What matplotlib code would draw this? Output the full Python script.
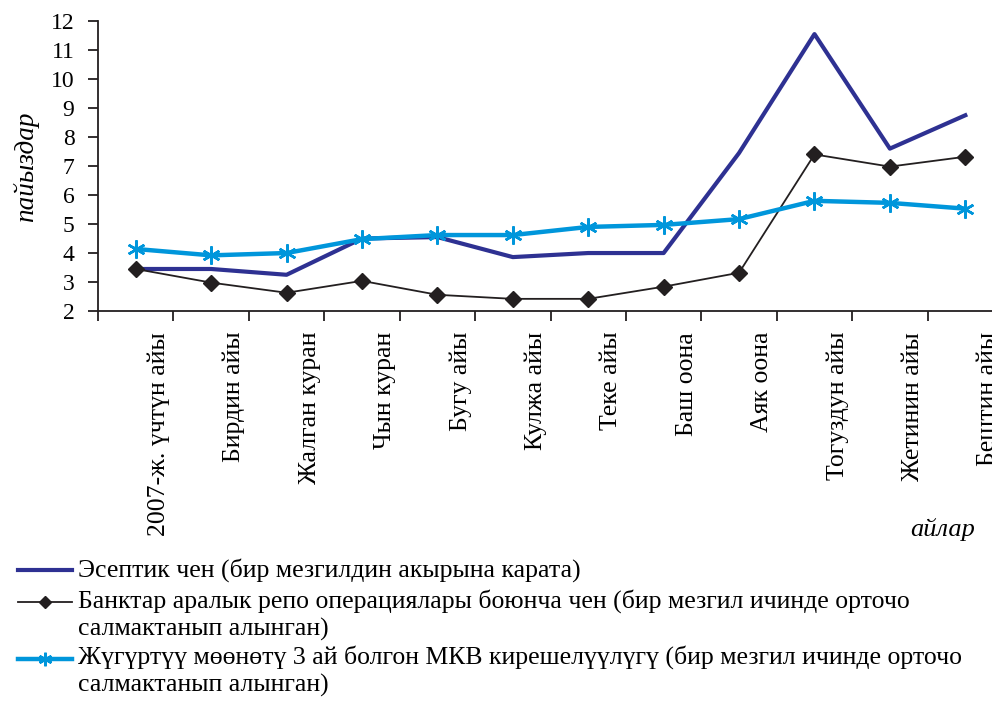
import numpy as np
import matplotlib
matplotlib.use("Agg")
import matplotlib.pyplot as plt
import matplotlib.transforms as mtransforms
from matplotlib.lines import Line2D

plt.rcParams['font.family'] = ['Liberation Serif', 'DejaVu Serif']

# Data
months = ["2007-ж. үчтүн айы", "Бирдин айы", "Жалган куран", "Чын куран",
          "Бугу айы", "Кулжа айы", "Теке айы", "Баш оона", "Аяк оона",
          "Тогуздун айы", "Жетинин айы", "Бештин айы"]
accounting_rate = [3.45, 3.45, 3.25, 4.5, 4.55, 3.86, 4.0, 4.0, 7.45, 11.55, 7.6, 8.75]
repo_rate = [3.45, 2.98, 2.63, 3.04, 2.56, 2.42, 2.42, 2.84, 3.32, 7.4, 6.98, 7.32]
tbill_yield = [4.14, 3.92, 4.0, 4.48, 4.62, 4.62, 4.9, 4.97, 5.17, 5.8, 5.73, 5.53]

labels = ["Эсептик чен (бир мезгилдин акырына карата)",
          "Банктар аралык репо операциялары боюнча чен (бир мезгил ичинде орточо\nсалмактанып алынган)",
          "Жүгүртүү мөөнөтү 3 ай болгон МКВ кирешелүүлүгү (бир мезгил ичинде орточо\nсалмактанып алынган)"]

W, H = 992, 701
fig = plt.figure(figsize=(W / 100, H / 100), dpi=100)
ax = fig.add_axes([0.0988, 0.5563, 0.9123, 0.4137])

x = np.arange(len(months))
l1, = ax.plot(x, accounting_rate, color="#2E3192", lw=3)
l2, = ax.plot(x, repo_rate, color="#231F20", lw=1.3, marker="D", ms=8)
l3, = ax.plot(x, tbill_yield, color="#0096DB", lw=3.2, marker=(6, 2, 0), ms=13, mew=1.8)

ax.set_xlim(-0.5, len(months) - 0.5)
ax.set_ylim(2, 12)
ax.set_yticks(range(2, 13))
ax.tick_params(axis="y", labelsize=17, length=7, width=1.3, pad=10, color="#231F20")

# category boundaries get tick marks, labels sit on the categories
ax.set_xticks(np.arange(-0.5, len(months), 1.0))
ax.set_xticklabels([])
ax.tick_params(axis="x", which="major", length=7, width=1.3, color="#231F20")
ax.set_xticks(x, minor=True)
ax.set_xticklabels(months, minor=True, rotation=90, fontsize=18.5)
ax.tick_params(axis="x", which="minor", length=0, pad=15)
offset = mtransforms.ScaledTranslation(0.23, 0, fig.dpi_scale_trans)
for lab in ax.get_xticklabels(minor=True):
    lab.set_transform(lab.get_transform() + offset)

for side in ["top", "right"]:
    ax.spines[side].set_visible(False)
for side in ["left", "bottom"]:
    ax.spines[side].set_linewidth(1.3)
    ax.spines[side].set_color("#231F20")

fig.text(0.026, 1 - 167 / H, "пайыздар", rotation=90, style="italic", fontsize=19.5,
         ha="center", va="center")
fig.text(943 / W, 1 - 530 / H, "айлар", style="italic", fontsize=19, ha="center", va="center")

# legend drawn by hand so the handle sits on the first line of each entry
handles = [l1, l2, l3]
handle_y = [570, 602, 659]
text_base = [577, 608, 664]
line_gap = 28
for h, hy, ty, lab in zip(handles, handle_y, text_base, labels):
    yy = 1 - hy / H
    ms = h.get_markersize() * 0.75
    fig.add_artist(Line2D([18 / W, 45 / W, 72 / W], [yy, yy, yy], transform=fig.transFigure,
                          color=h.get_color(), lw=h.get_linewidth(), marker=h.get_marker(),
                          ms=ms, mew=h.get_markeredgewidth(), markevery=[1]))
    for i, part in enumerate(lab.split("\n")):
        fig.text(78 / W, 1 - (ty + i * line_gap) / H, part, fontsize=18.5,
                 ha="left", va="baseline")

fig.savefig("out.png", dpi=100)
